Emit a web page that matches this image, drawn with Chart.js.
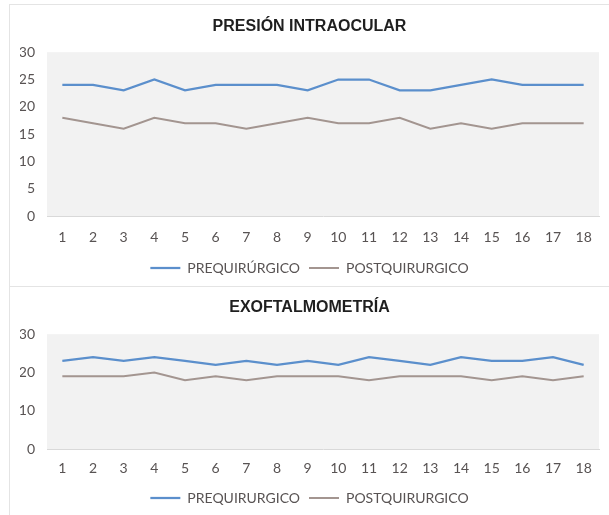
<!DOCTYPE html>
<html lang="es">
<head>
<meta charset="utf-8">
<script src="https://cdn.jsdelivr.net/npm/chart.js@4/dist/chart.umd.min.js"></script>
<style>
  html, body { margin: 0; padding: 0; background: #ffffff; }
  body { width: 609px; height: 515px; position: relative; overflow: hidden; }
  .panel { position: absolute; left: 0; width: 609px; }
  .frame { position: absolute; border: 1px solid #e4e4e4; border-right: none; pointer-events: none; }
</style>
</head>
<body>
<div class="frame" style="left:9px; top:4px; width:620px; height:281px;"></div>
<div class="frame" style="left:9px; top:286px; width:620px; height:240px;"></div>
<div class="panel" style="top:0; height:285px;"><canvas id="pio" width="609" height="285"></canvas></div>
<div class="panel" style="top:285px; height:230px;"><canvas id="exo" width="609" height="230"></canvas></div>
<script>
// Patients 1..18
const patients = ['1','2','3','4','5','6','7','8','9','10','11','12','13','14','15','16','17','18'];

// Intraocular pressure (mmHg)
const pioPre  = [24, 24, 23, 25, 23, 24, 24, 24, 23, 25, 25, 23, 23, 24, 25, 24, 24, 24];
const pioPost = [18, 17, 16, 18, 17, 17, 16, 17, 18, 17, 17, 18, 16, 17, 16, 17, 17, 17];

// Exophthalmometry (mm)
const exoPre  = [23, 24, 23, 24, 23, 22, 23, 22, 23, 22, 24, 23, 22, 24, 23, 23, 24, 22];
const exoPost = [19, 19, 19, 20, 18, 19, 18, 19, 19, 19, 18, 19, 19, 19, 18, 19, 18, 19];

const BLUE = '#5b8fcc';
const TAUPE = '#a39590';
const TEXT = '#585353';
const BODY_FONT = 'Lato, "Open Sans", sans-serif';

// Light grey fill behind the plot area
const plotBackground = {
  id: 'plotBackground',
  beforeDraw(chart) {
    const a = chart.chartArea;
    const ctx = chart.ctx;
    ctx.save();
    ctx.fillStyle = '#f2f2f2';
    ctx.fillRect(a.left, a.top, a.right - a.left, a.bottom - a.top);
    ctx.restore();
  }
};

function makeChart(id, title, preLabel, postLabel, pre, post, step, t) {
  return new Chart(document.getElementById(id), {
    type: 'line',
    data: {
      labels: patients,
      datasets: [
        { label: preLabel, data: pre, borderColor: BLUE, backgroundColor: BLUE,
          borderWidth: 2.25, pointRadius: 0, tension: 0, pointStyle: 'line' },
        { label: postLabel, data: post, borderColor: TAUPE, backgroundColor: TAUPE,
          borderWidth: 2, pointRadius: 0, tension: 0, pointStyle: 'line' }
      ]
    },
    options: {
      responsive: false,
      animation: false,
      events: [],
      layout: { padding: { left: 20, right: 10, top: 0, bottom: 0 } },
      plugins: {
        title: {
          display: true, text: title, color: '#1f1f1f',
          font: { family: '"Liberation Sans", Arial, sans-serif', size: 16, weight: 'bold' },
          padding: { top: t.titleTop, bottom: t.titleBottom }
        },
        legend: {
          display: true, position: 'bottom',
          labels: {
            usePointStyle: true, pointStyle: 'line', pointStyleWidth: 30,
            color: TEXT, padding: 9,
            font: { family: BODY_FONT, size: 14 }
          }
        },
        tooltip: { enabled: false }
      },
      scales: {
        x: {
          offset: true,
          grid: { display: false, drawTicks: false },
          border: { display: true, color: '#d9d9d9', width: 1 },
          ticks: { color: TEXT, padding: t.xPad, font: { family: BODY_FONT, size: 14 } },
          afterFit(scale) { scale.height = t.xHeight; }
        },
        y: {
          min: 0, max: 30,
          grid: { display: false, drawTicks: false },
          border: { display: false },
          ticks: { stepSize: step, color: TEXT, padding: 12, font: { family: BODY_FONT, size: 14 } },
          afterFit(scale) { scale.width = 27; }
        }
      }
    },
    plugins: [plotBackground]
  });
}

makeChart('pio', 'PRESIÓN INTRAOCULAR', 'PREQUIRÚRGICO', 'POSTQUIRURGICO', pioPre, pioPost, 5,
  { titleTop: 17, titleBottom: 16, xPad: 13, xHeight: 36 });
makeChart('exo', 'EXOFTALMOMETRÍA', 'PREQUIRURGICO', 'POSTQUIRURGICO', exoPre, exoPost, 10,
  { titleTop: 13, titleBottom: 17, xPad: 11, xHeight: 33 });
</script>
</body>
</html>
